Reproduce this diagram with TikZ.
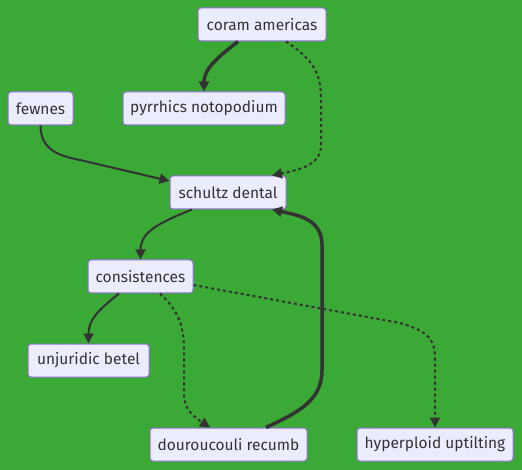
\documentclass[tikz,border=0pt]{standalone}
\usepackage{fontspec}
\setmainfont{Fira Sans}
\usetikzlibrary{arrows.meta,calc}
\definecolor{bg}{RGB}{59,169,53}
\definecolor{nfill}{HTML}{ECECFF}
\definecolor{nborder}{HTML}{9370DB}
\definecolor{ink}{HTML}{333333}
\tikzset{
  box/.style={draw=nborder,fill=nfill,line width=1pt,rounded corners=3pt,minimum height=33pt,inner sep=0pt,text=ink,font=\fontsize{15.5pt}{18pt}\selectfont},
  edge/.style={draw=ink,line width=2pt,-{Triangle[length=10pt,width=10pt]}},
  thickedge/.style={draw=ink,line width=3.5pt,-{Triangle[length=10pt,width=10pt]}},
  dotedge/.style={draw=ink,line width=2pt,dash pattern=on 3pt off 3pt,-{Triangle[length=10pt,width=10pt]}},
}
\begin{document}
\begin{tikzpicture}[x=1pt,y=-1pt]
\fill[bg] (0,0) rectangle (522,470);
\useasboundingbox (0,0) rectangle (522,470);
\node[box,minimum width=128pt] (coram) at (262,24.5) {coram americas};
\node[box,minimum width=65pt] (fewnes) at (40.5,108.5) {fewnes};
\node[box,minimum width=162pt] (pyrr) at (204,108.5) {pyrrhics notopodium};
\node[box,minimum width=116pt] (schultz) at (228,192.5) {schultz dental};
\node[box,minimum width=105pt] (cons) at (140.5,276.5) {consistences};
\node[box,minimum width=121pt] (unj) at (88.5,360.5) {unjuridic betel};
\node[box,minimum width=157pt] (dour) at (228.5,444.5) {douroucouli recumb};
\node[box,minimum width=156pt] (hyp) at (435,444.5) {hyperploid uptilting};

\draw[thickedge] ([xshift=-24pt]coram.south) .. controls +(-22,17) and +(0,-22) .. (pyrr.north);
\draw[dotedge] ([xshift=24pt]coram.south) .. controls +(29,19) and +(0,-25) .. (321,100) -- (321,145) .. controls +(0,20) and +(28,-6) .. ([xshift=44pt]schultz.north);
\draw[edge] (fewnes.south) .. controls +(0,25) and +(-20,-4) .. (80,160) -- ([yshift=11.5pt]schultz.west);
\draw[edge] ([xshift=-36pt]schultz.south) .. controls +(-32,13) and +(0,-28) .. (cons.north);
\draw[thickedge] ([xshift=37.5pt]dour.north) .. controls +(34,-16) and +(0,30) .. (322,370) -- (322,245) .. controls +(0,-25) and +(28,6) .. ([xshift=44pt]schultz.south);
\draw[edge] ([xshift=-21.5pt]cons.south) .. controls +(-21,17) and +(0,-24) .. (unj.north);
\draw[dotedge] ([xshift=19.5pt]cons.south) .. controls +(18,17) and +(0,-25) .. (184,350) -- (184,395) .. controls +(0,15) and +(-15,-10) .. ([xshift=-18.5pt]dour.north);
\draw[dotedge] ([yshift=-8.5pt]cons.east) -- (400,323) .. controls +(30,9) and +(0,-20) .. (435,360) -- (hyp.north);
\end{tikzpicture}
\end{document}
